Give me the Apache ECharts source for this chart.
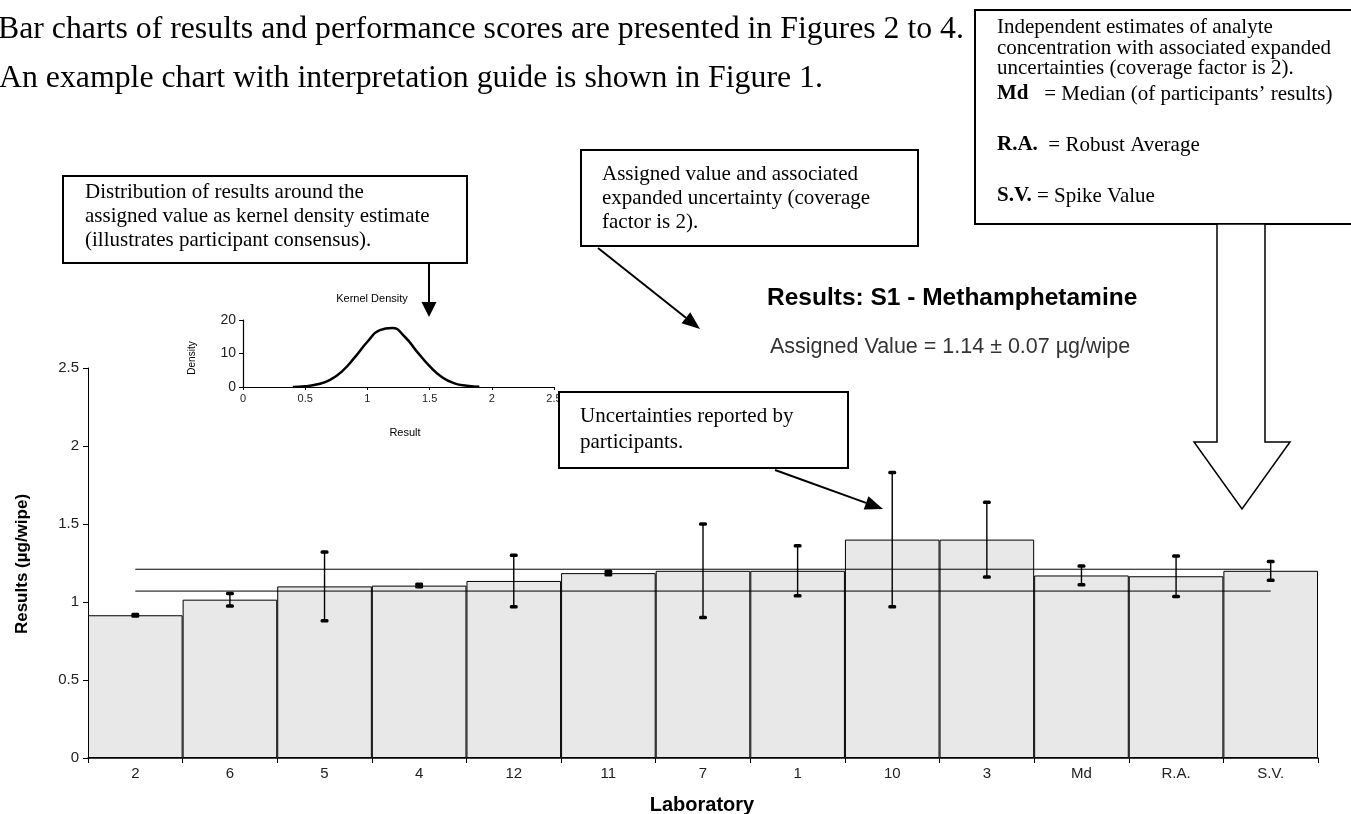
<!DOCTYPE html>
<html>
<head>
<meta charset="utf-8">
<script src="https://cdn.jsdelivr.net/npm/echarts@6/dist/echarts.min.js"></script>
<style>
html,body{margin:0;padding:0;background:#fff;}
#chart{width:1351px;height:814px;}
</style>
</head>
<body>
<div id="chart"></div>
<script>
// ---------- data ----------
const laboratories = ['2','6','5','4','12','11','7','1','10','3','Md','R.A.','S.V.'];
const results = [0.915, 1.015, 1.10, 1.105, 1.135, 1.185, 1.20, 1.20, 1.40, 1.40, 1.17, 1.165, 1.20];
const uncertainties = [0.005, 0.04, 0.22, 0.008, 0.165, 0.01, 0.30, 0.16, 0.43, 0.24, 0.06, 0.13, 0.06];
const assignedValue = 1.14;
const assignedU = 0.07;
const kdResult = [0.4, 0.5, 0.6, 0.7, 0.8, 0.9, 1.0, 1.1, 1.2, 1.3, 1.4, 1.5, 1.6, 1.7, 1.8, 1.9];
const kdDensity = [0.0, 0.2, 0.8, 2.1, 4.8, 8.9, 13.5, 17.0, 17.6, 15.0, 10.5, 6.2, 2.9, 1.1, 0.4, 0.1];

// ---------- text ----------
const docLine1 = 'Bar charts of results and performance scores are presented in Figures 2 to 4.';
const docLine2 = 'An example chart with interpretation guide is shown in Figure 1.';
const chartTitle = 'Results: S1 - Methamphetamine';
const chartSubtitle = 'Assigned Value = 1.14 \u00b1 0.07 \u00b5g/wipe';

const SERIF = '"Liberation Serif", "Times New Roman", serif';
const SANS = '"Liberation Sans", Arial, sans-serif';
const BOXFONT = 21;

const chart = echarts.init(document.getElementById('chart'), null, {renderer: 'canvas'});

function box(x, y, w, h) {
  return {type: 'rect', z: 100, shape: {x: x, y: y, width: w, height: h},
    style: {fill: '#fff', stroke: '#000', lineWidth: 2}};
}
function serifText(x, y, text) {
  return {type: 'text', z: 101, x: x, y: y,
    style: {text: text, font: BOXFONT + 'px ' + SERIF, fill: '#000', textVerticalAlign: 'middle'}};
}
function richText(x, y, text) {
  return {type: 'text', z: 101, x: x, y: y,
    style: {text: text, font: BOXFONT + 'px ' + SERIF, fill: '#000', textVerticalAlign: 'middle',
      rich: {b: {fontFamily: SERIF, fontWeight: 'bold', fontSize: BOXFONT}}}};
}
function arrow(x1, y1, x2, y2, headLen, headW) {
  const a = Math.atan2(y2 - y1, x2 - x1);
  const bx = x2 - headLen * Math.cos(a), by = y2 - headLen * Math.sin(a);
  const px = -Math.sin(a) * headW / 2, py = Math.cos(a) * headW / 2;
  return [
    {type: 'line', z: 100, shape: {x1: x1, y1: y1, x2: bx, y2: by}, style: {stroke: '#000', lineWidth: 2}},
    {type: 'polygon', z: 100, shape: {points: [[x2, y2], [bx + px, by + py], [bx - px, by - py]]}, style: {fill: '#000'}}
  ];
}

const graphics = [
  {type: 'text', x: -2, y: 30, style: {text: docLine1, font: '31.8px ' + SERIF, fill: '#000', textVerticalAlign: 'middle'}},
  {type: 'text', x: -1, y: 79, style: {text: docLine2, font: '31.8px ' + SERIF, fill: '#000', textVerticalAlign: 'middle'}},
  // box 1
  box(63, 176, 404, 87),
  serifText(85, 192, 'Distribution of results around the'),
  serifText(85, 216, 'assigned value as kernel density estimate'),
  serifText(85, 240, '(illustrates participant consensus).'),
  ...arrow(429, 263, 429, 317, 15, 15),
  // box 2
  box(581, 150, 337, 96),
  serifText(602, 174, 'Assigned value and associated'),
  serifText(602, 198, 'expanded uncertainty (coverage'),
  serifText(602, 222, 'factor is 2).'),
  ...arrow(598, 248, 700, 329, 18, 14),
  // box 3
  box(559, 392, 289, 76),
  serifText(580, 416, 'Uncertainties reported by'),
  serifText(580, 442, 'participants.'),
  ...arrow(775, 470, 883, 509, 18, 14),
  // box 4
  box(975, 10, 380, 214),
  serifText(997, 27, 'Independent estimates of analyte'),
  serifText(997, 48, 'concentration with associated expanded'),
  serifText(997, 68, 'uncertainties (coverage factor is 2).'),
  richText(997, 94, '{b|Md}   = Median (of participants\u2019 results)'),
  richText(997, 145, '{b|R.A.}  = Robust Average'),
  richText(997, 196, '{b|S.V.} = Spike Value'),
  // big hollow arrow
  {type: 'polygon', z: 100, shape: {points: [[1217, 224], [1265, 224], [1265, 442], [1290, 442], [1242, 509], [1194, 442], [1217, 442]]},
    style: {fill: '#fff', stroke: '#000', lineWidth: 1.5}},
  // chart titles
  {type: 'text', x: 767, y: 298, style: {text: chartTitle, font: 'bold 24.5px ' + SANS, fill: '#000', textVerticalAlign: 'middle'}},
  {type: 'text', x: 770, y: 347, style: {text: chartSubtitle, font: '21.5px ' + SANS, fill: '#333', textVerticalAlign: 'middle'}},
  // inset titles
  {type: 'text', x: 372, y: 299, style: {text: 'Kernel Density', font: '11px ' + SANS, fill: '#000', textAlign: 'center', textVerticalAlign: 'middle'}},
  {type: 'text', x: 405, y: 433, style: {text: 'Result', font: '11px ' + SANS, fill: '#000', textAlign: 'center', textVerticalAlign: 'middle'}},
  {type: 'text', x: 192, y: 358, rotation: Math.PI / 2, style: {text: 'Density', font: '10px ' + SANS, fill: '#000', textAlign: 'center', textVerticalAlign: 'middle'}},
  // axis titles
  {type: 'text', x: 702, y: 805, style: {text: 'Laboratory', font: 'bold 20px ' + SANS, fill: '#000', textAlign: 'center', textVerticalAlign: 'middle'}},
  {type: 'text', x: 22, y: 564, rotation: Math.PI / 2, style: {text: 'Results (\u00b5g/wipe)', font: 'bold 17px ' + SANS, fill: '#000', textAlign: 'center', textVerticalAlign: 'middle'}}
];

const errData = laboratories.map((l, i) => [i, results[i], uncertainties[i]]);
const lo = assignedValue - assignedU, hi = assignedValue + assignedU;
const last = laboratories.length - 1;

const option = {
  animation: false,
  backgroundColor: '#fff',
  textStyle: {fontFamily: SANS},
  grid: [
    {left: 88, right: 33, top: 368, bottom: 56, containLabel: false},
    {left: 243, width: 311, top: 320, height: 67, containLabel: false}
  ],
  xAxis: [
    {type: 'category', gridIndex: 0, data: laboratories, boundaryGap: true,
      axisLine: {lineStyle: {color: '#000', width: 1.5}},
      axisTick: {show: true, length: 5, lineStyle: {color: '#000'}},
      axisLabel: {color: '#222', fontSize: 15, margin: 8, fontFamily: SANS}},
    {type: 'value', gridIndex: 1, min: 0, max: 2.5, interval: 0.5,
      splitLine: {show: false},
      axisLine: {lineStyle: {color: '#000', width: 1.2}},
      axisTick: {show: true, length: 3, lineStyle: {color: '#000'}},
      axisLabel: {color: '#222', fontSize: 11, margin: 6, fontFamily: SANS}}
  ],
  yAxis: [
    {type: 'value', gridIndex: 0, min: 0, max: 2.5, interval: 0.5,
      splitLine: {show: false},
      axisLine: {show: true, lineStyle: {color: '#000', width: 1}},
      axisTick: {show: true, length: 5, lineStyle: {color: '#000'}},
      axisLabel: {color: '#222', fontSize: 15, margin: 9, fontFamily: SANS}},
    {type: 'value', gridIndex: 1, min: 0, max: 20, interval: 10,
      splitLine: {show: false},
      axisLine: {show: true, lineStyle: {color: '#000', width: 1.2}},
      axisTick: {show: true, length: 4, lineStyle: {color: '#000'}},
      axisLabel: {color: '#222', fontSize: 14, margin: 7, fontFamily: SANS}}
  ],
  series: [
    {type: 'bar', xAxisIndex: 0, yAxisIndex: 0, data: results, barWidth: '100%', z: 2,
      itemStyle: {color: '#e8e8e8', borderColor: '#000', borderWidth: 1}},
    {type: 'line', xAxisIndex: 0, yAxisIndex: 0, data: [[0, lo], [last, lo]], symbol: 'none', z: 3,
      lineStyle: {color: '#000', width: 1}},
    {type: 'line', xAxisIndex: 0, yAxisIndex: 0, data: [[0, hi], [last, hi]], symbol: 'none', z: 3,
      lineStyle: {color: '#000', width: 1}},
    {type: 'custom', xAxisIndex: 0, yAxisIndex: 0, data: errData, z: 4,
      renderItem: function (params, api) {
        const v = api.value(1), u = api.value(2), c = api.value(0);
        const top = api.coord([c, v + u]);
        const bot = api.coord([c, v - u]);
        const cw = 8, ch = 3.5;
        return {type: 'group', children: [
          {type: 'line', shape: {x1: top[0], y1: top[1], x2: bot[0], y2: bot[1]}, style: {stroke: '#000', lineWidth: 1.4}},
          {type: 'rect', shape: {x: top[0] - cw / 2, y: top[1] - ch / 2, width: cw, height: ch, r: 1.5}, style: {fill: '#000'}},
          {type: 'rect', shape: {x: bot[0] - cw / 2, y: bot[1] - ch / 2, width: cw, height: ch, r: 1.5}, style: {fill: '#000'}}
        ]};
      }},
    {type: 'line', xAxisIndex: 1, yAxisIndex: 1, data: kdResult.map((x, i) => [x, kdDensity[i]]),
      smooth: true, symbol: 'none', lineStyle: {color: '#000', width: 2.5}}
  ],
  graphic: graphics
};
chart.setOption(option);
</script>
</body>
</html>
